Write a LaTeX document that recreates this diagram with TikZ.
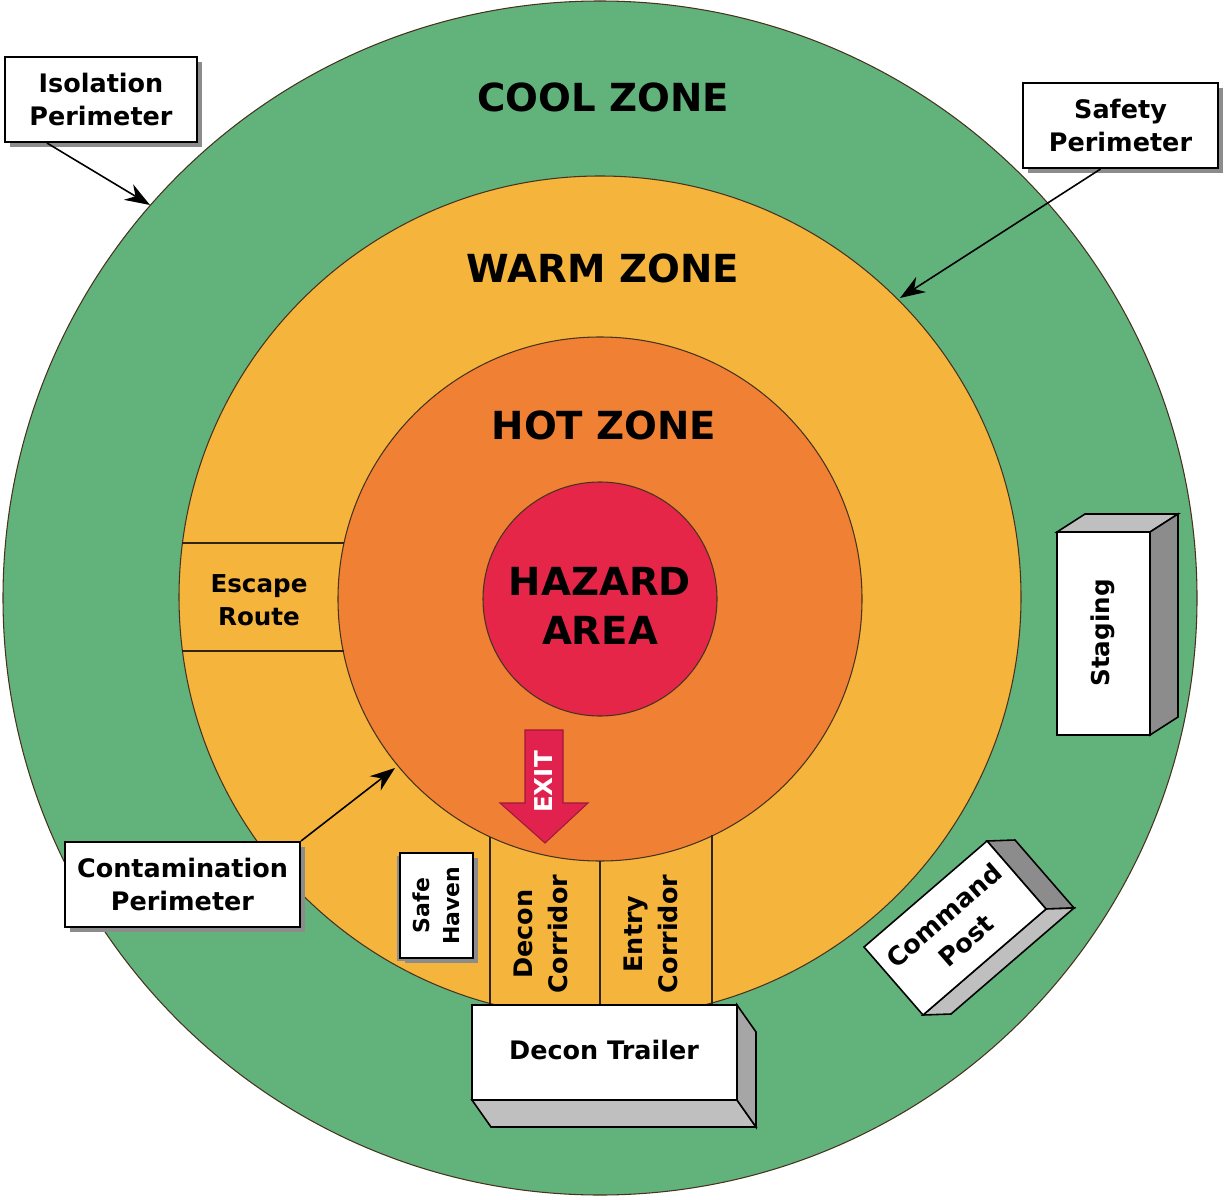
\documentclass[tikz,border=0pt]{standalone}
\usepackage{fontspec}
\setmainfont{DejaVu Sans}
\usetikzlibrary{arrows.meta,shadows}

\definecolor{coolgreen}{RGB}{98,178,124}
\definecolor{warmorange}{RGB}{245,180,60}
\definecolor{hotorange}{RGB}{240,128,52}
\definecolor{hazardred}{RGB}{230,38,72}
\definecolor{exitred}{RGB}{226,34,78}
\definecolor{zoneline}{RGB}{70,50,30}

\begin{document}
\begin{tikzpicture}[x=0.2mm,y=-0.2mm]
\tikzstyle{zlabel} = [font=\fontsize{22pt}{28pt}\selectfont\bfseries,align=center,inner sep=0pt]
\tikzstyle{plabel} = [draw=black,line width=1.2pt,fill=white,font=\fontsize{14.5pt}{18.5pt}\selectfont\bfseries,align=center,inner sep=0pt,drop shadow={shadow xshift=1mm,shadow yshift=-1mm,fill=black!45,opacity=1}]
\tikzstyle{slabel} = [font=\fontsize{14.5pt}{20pt}\selectfont\bfseries,align=center,inner sep=0pt]
\tikzstyle{pointer} = [line width=0.9pt,-{Stealth[length=5mm,width=3.6mm]}]
\tikzstyle{zone} = [draw=zoneline,line width=0.6pt]
\tikzstyle{divider} = [draw=zoneline!70!black,line width=1.1pt]
\tikzstyle{front} = [draw=black,line width=0.9pt,fill=white]
\tikzstyle{darkside} = [draw=black,line width=0.9pt,fill=black!45]
\tikzstyle{lightside} = [draw=black,line width=0.9pt,fill=black!25]

\useasboundingbox (0,0) rectangle (1226,1200);

% zones
\path[zone,fill=coolgreen] (600,598) circle[radius=597];
\path[zone,fill=warmorange] (600,597) circle[radius=421];
\path[zone,fill=hotorange] (600,599) circle[radius=262];
\path[zone,fill=hazardred] (600,599) circle[radius=117];

% escape route and corridors
\draw[divider] (182,543) -- (344,543);
\draw[divider] (182,651) -- (344,651);
\draw[divider] (490,837) -- (490,1005);
\draw[divider] (600,861) -- (600,1005);
\draw[divider] (712,835) -- (712,1005);

% exit arrow
\draw[draw=exitred!70!black,line width=0.6pt,fill=exitred]
  (525,730) -- (563,730) -- (563,803) -- (588,803) -- (545,843) -- (500,803) -- (525,803) -- cycle;
\node[font=\fontsize{14pt}{14pt}\selectfont\bfseries,text=white,rotate=90,inner sep=0pt] (exit) at (544,782) {EXIT};

% decon trailer
\draw[lightside] (472,1100) -- (737,1100) -- (756,1127) -- (491,1127) -- cycle;
\draw[lightside,fill=black!35] (737,1005) -- (756,1032) -- (756,1127) -- (737,1100) -- cycle;
\draw[front] (472,1005) rectangle (737,1100);
\node[slabel] (trailer) at (604,1050) {Decon Trailer};

% staging
\draw[lightside] (1057,532) -- (1085,514) -- (1178,514) -- (1150,532) -- cycle;
\draw[darkside] (1150,532) -- (1178,514) -- (1178,717) -- (1150,735) -- cycle;
\draw[front] (1057,532) rectangle (1150,735);
\node[slabel,font=\fontsize{14pt}{18pt}\selectfont\bfseries,rotate=90] (staging) at (1103,633) {Staging};

% command post
\draw[darkside] (987,841) -- (1015,840) -- (1074,908) -- (1046,909) -- cycle;
\draw[lightside] (1046,909) -- (1074,908) -- (951,1014) -- (923,1015) -- cycle;
\draw[front] (864,947) -- (987,841) -- (1046,909) -- (923,1015) -- cycle;
\node[slabel,font=\fontsize{14.5pt}{19pt}\selectfont\bfseries,rotate=41] (post) at (955,928) {Command\\Post};

% safe haven
\node[plabel,font=\fontsize{12.5pt}{17pt}\selectfont\bfseries,line width=0.9pt,rotate=90,minimum width=21mm,minimum height=14.6mm,
  drop shadow={shadow xshift=-0.6mm,shadow yshift=-0.6mm,fill=black!45,opacity=1}] (haven) at (436.5,905.5) {Safe\\Haven};

% zone names
\node[zlabel] (cool) at (603,97) {COOL ZONE};
\node[zlabel] (warm) at (603,268) {WARM ZONE};
\node[zlabel] (hot) at (604,425) {HOT ZONE};
\node[zlabel] (hazard) at (600,606) {HAZARD\\AREA};
\node[slabel,font=\fontsize{14pt}{19pt}\selectfont\bfseries] (escape) at (259,600) {Escape\\Route};
\node[slabel,rotate=90] (decon) at (541,934) {Decon\\Corridor};
\node[slabel,rotate=90] (entry) at (651,934) {Entry\\Corridor};

% perimeters
\node[plabel,minimum width=38.4mm,minimum height=17mm] (iso) at (101,99.5) {Isolation\\Perimeter};
\node[plabel,minimum width=39mm,minimum height=17mm] (safety) at (1120.5,125.5) {Safety\\Perimeter};
\node[plabel,minimum width=47mm,minimum height=17mm] (cont) at (182.5,884.5) {Contamination\\Perimeter};

\coordinate (isotip) at (150,205);
\coordinate (safetytip) at (900,298);
\coordinate (conttip) at (395,768);
\draw[pointer] ([xshift=-10.8mm]iso.south) -- (isotip);
\draw[pointer] ([xshift=-4mm]safety.south) -- (safetytip);
\draw[pointer] (cont.north east) -- (conttip);
\end{tikzpicture}
\end{document}
